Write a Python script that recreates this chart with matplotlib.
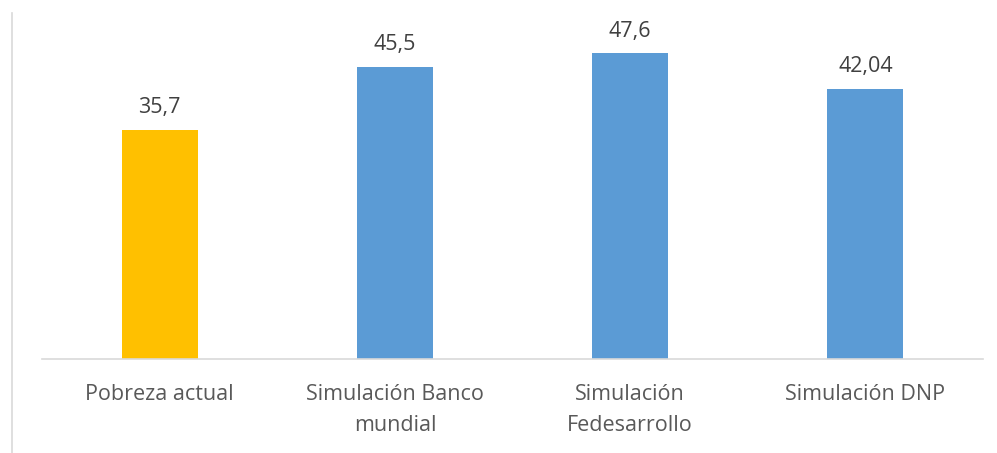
import matplotlib
matplotlib.use("Agg")
import matplotlib.pyplot as plt
from matplotlib.lines import Line2D

categories = ["Pobreza actual", "Simulación Banco\nmundial", "Simulación\nFedesarrollo", "Simulación DNP"]
values = [35.7, 45.5, 47.6, 42.04]
value_labels = ["35,7", "45,5", "47,6", "42,04"]
colors = ["#FFC000", "#5B9BD5", "#5B9BD5", "#5B9BD5"]

plt.rcParams['font.family'] = ['Open Sans', 'DejaVu Sans']

W, H = 997, 453
fig = plt.figure(figsize=(W / 100, H / 100), dpi=100)
ax = fig.add_axes([42 / W, (H - 359) / H, 941 / W, 353 / H])

x = range(len(categories))
bars = ax.bar(x, values, width=0.323, color=colors)
ax.set_xlim(-0.5, len(categories) - 0.5)
ax.set_ylim(0, 55)

for xi, v, lab in zip(x, values, value_labels):
    ax.annotate(lab, (xi, v), xytext=(0, 8.5), textcoords="offset points",
                ha="center", va="bottom", fontsize=15.5, color="#404040")

ax.set_xticks(list(x))
ax.set_xticklabels(categories, fontsize=15.5, color="#595959", linespacing=1.65)
ax.tick_params(axis="x", length=0, pad=18)
ax.set_yticks([])
for s in ["top", "right", "left"]:
    ax.spines[s].set_visible(False)
ax.spines["bottom"].set_color("#D9D9D9")
ax.spines["bottom"].set_linewidth(1.2)

fig.add_artist(Line2D([12 / W, 12 / W], [0, (H - 13) / H], color="#D9D9D9", linewidth=1.2))

fig.savefig("out.png", dpi=100, facecolor="white")
